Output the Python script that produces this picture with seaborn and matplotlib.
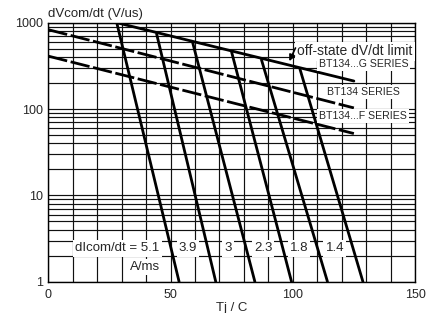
import numpy as np
import pandas as pd
import matplotlib
matplotlib.use("Agg")
import matplotlib.pyplot as plt
import seaborn as sns

# off-state dV/dt limit lines (Tj, dVcom/dt)
g_series_x = [28, 125]
g_series_y = [1000, 211]
std_series_x = [0, 125]
std_series_y = [830, 103]
f_series_x = [0, 125]
f_series_y = [410, 52]

# dIcom/dt curves: (start Tj, start dV/dt) -> (end Tj, 1)
dicom_labels = ["dIcom/dt = 5.1", "3.9", "3", "2.3", "1.8", "1.4"]
dicom_x0 = [28, 44.3, 59, 75, 87.2, 102.9]
dicom_y0 = [1000, 744, 596, 456, 372, 293]
dicom_x1 = [53.5, 68.5, 84.5, 99.5, 114.2, 128.7]
dicom_y1 = [1, 1, 1, 1, 1, 1]
dicom_label_x = [11, 57.2, 73.6, 87.9, 102.5, 117.2]

x_ticks = [0, 50, 100, 150]
y_ticks = [1, 10, 100, 1000]

sns.set_style("white")
plt.rcParams['font.family'] = ['Liberation Sans', 'DejaVu Sans']

fig = plt.figure(figsize=(4.27, 3.13), dpi=100)
ax = fig.add_axes([0.1131, 0.1, 0.8588, 0.8275])

ax.set_yscale('log')
ax.set_xlim(0, 150)
ax.set_ylim(1, 1000)

# grid
ax.set_xticks(x_ticks)
ax.set_xticks(np.arange(0, 151, 10), minor=True)
ax.set_yticks(y_ticks)
ax.set_yticklabels([str(v) for v in y_ticks])
minor_y = [m * d for d in [1, 10, 100] for m in range(2, 10)]
ax.set_yticks(minor_y, minor=True)
ax.set_yticklabels([], minor=True)
ax.grid(True, which='both', color='#111111', linewidth=0.85)
ax.set_axisbelow(True)
ax.tick_params(which='both', length=0, labelsize=9)
ax.tick_params(axis='x', pad=5)
ax.tick_params(axis='y', pad=4)
for sp in ax.spines.values():
    sp.set_color('black')
    sp.set_linewidth(1.0)

dash = (0, (7, 1.3))
lines = pd.DataFrame({
    'Tj': g_series_x + std_series_x + f_series_x,
    'dV': g_series_y + std_series_y + f_series_y,
    'series': ['G'] * 2 + ['STD'] * 2 + ['F'] * 2,
})
sns.lineplot(data=lines[lines.series == 'G'], x='Tj', y='dV', ax=ax,
             color='black', linewidth=2, legend=False)
for s in ['STD', 'F']:
    sns.lineplot(data=lines[lines.series == s], x='Tj', y='dV', ax=ax,
                 color='black', linewidth=2, linestyle=dash, legend=False)

for i in range(len(dicom_labels)):
    df = pd.DataFrame({'Tj': [dicom_x0[i], dicom_x1[i]],
                       'dV': [dicom_y0[i], dicom_y1[i]]})
    sns.lineplot(data=df, x='Tj', y='dV', ax=ax, color='black',
                 linewidth=2, legend=False)

box = dict(facecolor='white', edgecolor='none', pad=1.5)
ax.text(dicom_label_x[0], 2.43, dicom_labels[0], fontsize=9.5, ha='left',
        va='center', bbox=box, zorder=5)
for i in range(1, len(dicom_labels)):
    ax.text(dicom_label_x[i], 2.43, dicom_labels[i], fontsize=9.5,
            ha='center', va='center', bbox=box, zorder=5)
ax.text(39.4, 1.49, "A/ms", fontsize=9.5, ha='center', va='center',
        bbox=box, zorder=5)

ax.text(101.9, 464, "off-state dV/dt limit", fontsize=10, ha='left',
        va='center', bbox=box, zorder=5)
ax.annotate("", xy=(98.1, 335), xytext=(101.6, 545),
            arrowprops=dict(arrowstyle='-|>', color='black', lw=1.2,
                            mutation_scale=9), zorder=6)
ax.text(110.6, 329, "BT134...G SERIES", fontsize=7.6, ha='left',
        va='center', bbox=box, zorder=5)
ax.text(129, 157, "BT134 SERIES", fontsize=7.6, ha='center',
        va='center', bbox=box, zorder=5)
ax.text(110.8, 82.4, "BT134...F SERIES", fontsize=7.6, ha='left',
        va='center', bbox=box, zorder=5)

ax.set_xlabel("Tj / C", fontsize=9.5, labelpad=1)
ax.set_ylabel("")
ax.text(0, 1.012, "dVcom/dt (V/us)", transform=ax.transAxes, fontsize=9.5,
        ha='left', va='bottom')

fig.savefig("out.png", dpi=100)
